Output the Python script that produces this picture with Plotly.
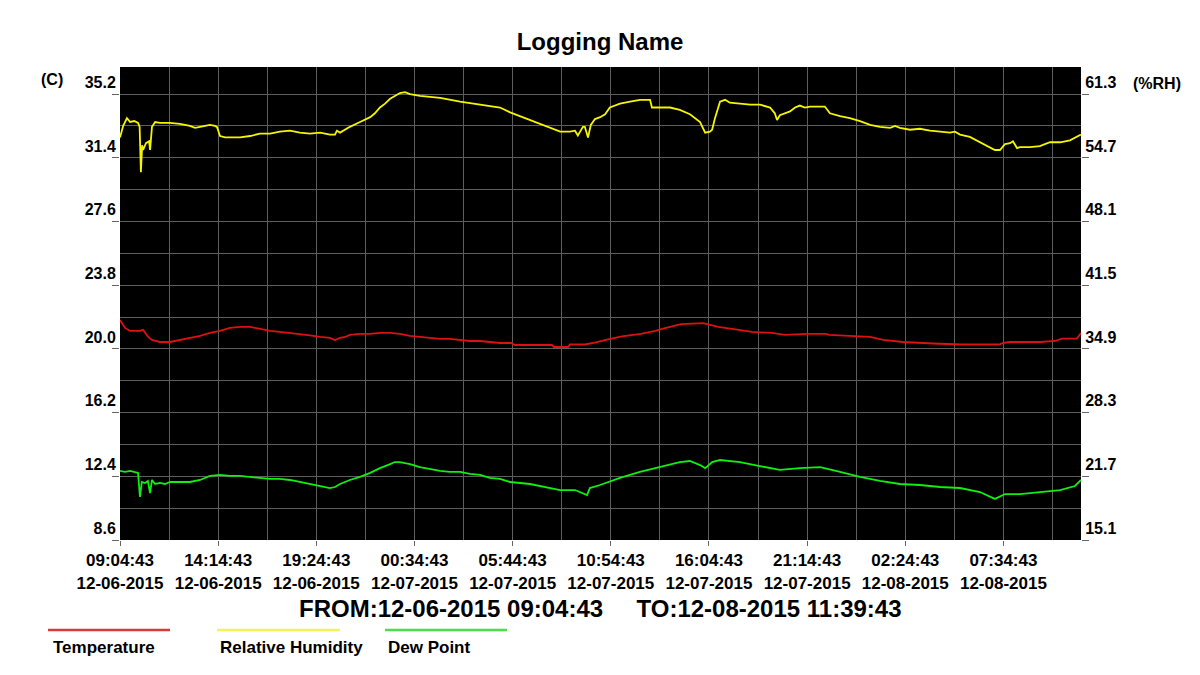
import pandas as pd
import plotly.graph_objects as go

START = "2015-12-06 09:04:43"
END = "2015-12-08 11:39:43"

# Relative humidity (%RH) — minutes after start, value
rh_minutes = [0, 10, 22, 32, 45, 57, 62, 66, 70, 73, 82, 92, 95, 101, 111, 126, 158, 189, 221, 237,
              253, 284, 300, 306, 316, 332, 379, 411, 442, 474, 505, 537, 568, 600, 632, 663, 679, 685,
              695, 711, 726, 758, 790, 805, 821, 837, 853, 868, 884, 900, 916, 947, 1011, 1074, 1137,
              1200, 1232, 1263, 1326, 1358, 1390, 1421, 1437, 1446, 1453, 1462, 1468, 1478, 1487, 1500,
              1516, 1532, 1547, 1579, 1611, 1642, 1674, 1680, 1705, 1737, 1768, 1800, 1832, 1838, 1848,
              1863, 1870, 1879, 1888, 1895, 1911, 1926, 1958, 1990, 2021, 2053, 2068, 2075, 2084, 2116,
              2132, 2147, 2163, 2179, 2211, 2226, 2242, 2274, 2305, 2337, 2369, 2400, 2432, 2448, 2463,
              2495, 2526, 2558, 2590, 2621, 2637, 2653, 2684, 2716, 2748, 2763, 2779, 2795, 2811, 2820,
              2833, 2842, 2874, 2905, 2937, 2969, 3000, 3035]
rh_values = [56.8, 58.0, 58.8, 58.4, 58.5, 58.3, 57.9, 53.2, 56.0, 55.5, 56.2, 56.4, 55.5, 57.9, 58.4,
             58.3, 58.3, 58.2, 58.0, 57.8, 57.9, 58.1, 58.0, 57.9, 56.95, 56.8, 56.8, 56.95, 57.2, 57.2,
             57.4, 57.5, 57.3, 57.2, 57.3, 57.1, 57.1, 57.5, 57.3, 57.6, 57.9, 58.4, 58.9, 59.3, 59.9,
             60.3, 60.8, 61.1, 61.4, 61.5, 61.3, 61.1, 60.9, 60.5, 60.2, 59.9, 59.4, 59.0, 58.2, 57.8,
             57.4, 57.4, 57.5, 57.0, 57.4, 57.9, 57.9, 56.8, 58.1, 58.7, 58.9, 59.2, 59.9, 60.3, 60.5,
             60.7, 60.7, 59.9, 59.9, 59.9, 59.65, 59.2, 58.4, 58.0, 57.3, 57.4, 57.6, 58.8, 59.9, 60.5,
             60.7, 60.4, 60.3, 60.2, 60.2, 59.9, 59.3, 58.6, 59.1, 59.5, 59.9, 60.1, 59.9, 60.0, 60.0,
             60.0, 59.3, 59.0, 58.8, 58.5, 58.1, 57.9, 57.8, 58.0, 57.8, 57.6, 57.7, 57.5, 57.4, 57.3,
             57.4, 57.1, 56.85, 56.3, 55.8, 55.5, 55.5, 56.1, 56.2, 56.4, 55.7, 55.8, 55.8, 55.9, 56.3,
             56.3, 56.5, 57.1]

# Temperature (C)
temp_minutes = [0, 16, 32, 63, 73, 79, 89, 101, 126, 158, 189, 221, 253, 284, 316, 347, 379, 411, 442,
                474, 505, 537, 568, 600, 632, 663, 679, 695, 711, 726, 758, 790, 821, 853, 884, 916, 947,
                979, 1011, 1042, 1074, 1105, 1137, 1168, 1200, 1235, 1247, 1364, 1371, 1415, 1421, 1468,
                1503, 1538, 1585, 1645, 1690, 1724, 1772, 1842, 1854, 1889, 1949, 1996, 2059, 2100,
                2170, 2230, 2239, 2287, 2369, 2410, 2473, 2568, 2659, 2776, 2789, 2811, 2884, 2906,
                2953, 2975, 3022, 3035]
temp_values = [21.72, 21.25, 21.07, 21.07, 21.13, 20.95, 20.71, 20.53, 20.41, 20.41, 20.53, 20.65,
               20.77, 20.95, 21.07, 21.25, 21.31, 21.31, 21.19, 21.07, 21.01, 20.95, 20.89, 20.80,
               20.71, 20.65, 20.53, 20.65, 20.71, 20.83, 20.89, 20.89, 20.95, 20.95, 20.89, 20.77,
               20.71, 20.65, 20.59, 20.59, 20.53, 20.47, 20.47, 20.41, 20.35, 20.35, 20.23, 20.23,
               20.11, 20.11, 20.26, 20.26, 20.38, 20.55, 20.75, 20.90, 21.07, 21.25, 21.48, 21.54,
               21.48, 21.31, 21.15, 21.01, 20.95, 20.83, 20.89, 20.89, 20.83, 20.77, 20.71, 20.53,
               20.41, 20.32, 20.26, 20.26, 20.35, 20.41, 20.38, 20.41, 20.47, 20.61, 20.61, 20.95]

# Dew point (C)
dew_minutes = [0, 16, 32, 47, 57, 63, 69, 79, 88, 95, 101, 111, 126, 142, 158, 189, 221, 253, 268, 284,
               316, 347, 379, 411, 442, 474, 505, 537, 568, 600, 632, 663, 679, 695, 726, 758, 790, 821,
               853, 868, 884, 916, 947, 979, 1011, 1042, 1074, 1105, 1137, 1168, 1200, 1232, 1295,
               1390, 1437, 1475, 1484, 1516, 1579, 1642, 1705, 1768, 1800, 1832, 1848, 1870, 1895,
               1958, 2021, 2084, 2147, 2211, 2274, 2337, 2400, 2463, 2526, 2590, 2653, 2716, 2763,
               2795, 2842, 2905, 2969, 3016, 3035]
dew_values = [12.72, 12.66, 12.72, 12.66, 12.60, 11.17, 12.06, 12.00, 12.12, 11.40, 12.18, 11.94,
              12.00, 11.94, 12.06, 12.06, 12.06, 12.18, 12.30, 12.42, 12.48, 12.42, 12.42, 12.36,
              12.30, 12.24, 12.24, 12.18, 12.06, 11.94, 11.82, 11.70, 11.76, 11.94, 12.18, 12.36,
              12.60, 12.89, 13.13, 13.25, 13.25, 13.13, 12.95, 12.84, 12.72, 12.66, 12.66, 12.54,
              12.48, 12.30, 12.24, 12.06, 11.94, 11.58, 11.58, 11.28, 11.70, 11.88, 12.30, 12.66,
              12.95, 13.25, 13.31, 13.07, 12.89, 13.25, 13.37, 13.25, 13.01, 12.78, 12.89, 12.95,
              12.66, 12.36, 12.12, 11.94, 11.88, 11.76, 11.70, 11.46, 11.05, 11.34, 11.34, 11.46,
              11.58, 11.82, 12.18]

left_ticks = [8.6, 12.4, 16.2, 20.0, 23.8, 27.6, 31.4, 35.2]
right_ticks = [15.1, 21.7, 28.3, 34.9, 41.5, 48.1, 54.7, 61.3]

start = pd.Timestamp(START)
def times(mins):
    return start + pd.to_timedelta(mins, unit="m")

FONT = "Liberation Sans, Arial, sans-serif"
GRID = "#5e5e5e"

fig = go.Figure()
fig.add_trace(go.Scatter(x=times(temp_minutes), y=temp_values, mode="lines",
                         line=dict(color="#dd1111", width=1.8), name="Temperature", showlegend=False))
fig.add_trace(go.Scatter(x=times(dew_minutes), y=dew_values, mode="lines",
                         line=dict(color="#11ee11", width=1.8), name="Dew Point", showlegend=False))
fig.add_trace(go.Scatter(x=times(rh_minutes), y=rh_values, mode="lines", yaxis="y2",
                         line=dict(color="#f5f500", width=1.8), name="Relative Humidity", showlegend=False))

# Window coordinates; the page body has an 8px margin, so the figure is offset by OFF.
OFF = 8
WIN_W, WIN_H = 1200, 675
W, H = WIN_W - 2 * OFF, WIN_H - 2 * OFF
L, R, T, B = 120, 1081, 67, 540
y_top = 35.2 + (94 - T) * (3.8 / 63.7)
rh_top = 15.1 + (y_top - 8.6) * (6.6 / 3.8)

fig.update_layout(
    width=W, height=H,
    margin=dict(l=L - OFF, r=W - (R - OFF), t=T - OFF, b=H - (B - OFF), pad=0),
    paper_bgcolor="white", plot_bgcolor="black",
    font=dict(family=FONT, color="black"),
    title=dict(text="<b>Logging Name</b>", x=(600 - OFF) / W, xanchor="center", y=1 - (42 - OFF) / H,
               yanchor="middle", font=dict(size=24, family=FONT, color="black")),
    xaxis=dict(type="date", range=[START, END], tick0=START, dtick=310 * 60 * 1000,
               tickformat="%H:%M:%S<br>%m-%d-%Y", ticks="outside", ticklen=5, tickcolor="#666",
               showgrid=True, gridcolor=GRID, gridwidth=1, zeroline=False, showline=False,
               tickfont=dict(size=17, family=FONT, weight="bold", color="black"),
               minor=dict(dtick=155 * 60 * 1000, tick0=START, showgrid=True, gridcolor=GRID, ticks=""),
               fixedrange=True),
    yaxis=dict(range=[8.6, y_top], tickmode="array", tickvals=left_ticks,
               ticktext=[f"{v:.1f}" for v in left_ticks], ticks="outside", ticklen=7, tickcolor="#666",
               ticklabelposition="outside top",
               showgrid=True, gridcolor=GRID, zeroline=False, showline=False,
               tickfont=dict(size=16, family=FONT, weight="bold", color="black"),
               minor=dict(tick0=8.6, dtick=1.9, showgrid=True, gridcolor=GRID, ticks="")),
    yaxis2=dict(range=[15.1, rh_top], overlaying="y", side="right", tickmode="array",
                tickvals=right_ticks, ticktext=[f"{v:.1f}" for v in right_ticks],
                ticks="outside", ticklen=7, tickcolor="#666", ticklabelposition="outside top",
                showgrid=False, zeroline=False, showline=False,
                tickfont=dict(size=16, family=FONT, weight="bold", color="black")),
)

def px(x):
    return (x - L) / (R - L)

def py(y):
    return (B - y) / (B - T)

ann = [
    dict(text="<b>(C)</b>", x=px(52), y=py(80)),
    dict(text="<b>(%RH)</b>", x=px(1157), y=py(84)),
    dict(text="<b>FROM:12-06-2015 09:04:43&nbsp;&nbsp;&nbsp;&nbsp;&nbsp;TO:12-08-2015 11:39:43</b>",
         x=px(600), y=py(608), size=24),
    dict(text="<b>Temperature</b>", x=px(51), y=py(647), xanchor="left", size=17),
    dict(text="<b>Relative Humidity</b>", x=px(218), y=py(647), xanchor="left", size=17),
    dict(text="<b>Dew Point</b>", x=px(386), y=py(647), xanchor="left", size=17),
]
for a in ann:
    fig.add_annotation(text=a["text"], x=a["x"], y=a["y"], xref="paper", yref="paper",
                       xanchor=a.get("xanchor", "center"), yanchor="middle", showarrow=False,
                       font=dict(size=a.get("size", 16), family=FONT, color="black"))

legend_lines = [(48, 170, "#d63a3a"), (217, 340, "#f2f25a"), (385, 507, "#4cdc4c")]
for x0, x1, c in legend_lines:
    fig.add_shape(type="line", xref="paper", yref="paper", x0=px(x0), x1=px(x1),
                  y0=py(630), y1=py(630), line=dict(color=c, width=2.5))

fig.write_html("out.html")
